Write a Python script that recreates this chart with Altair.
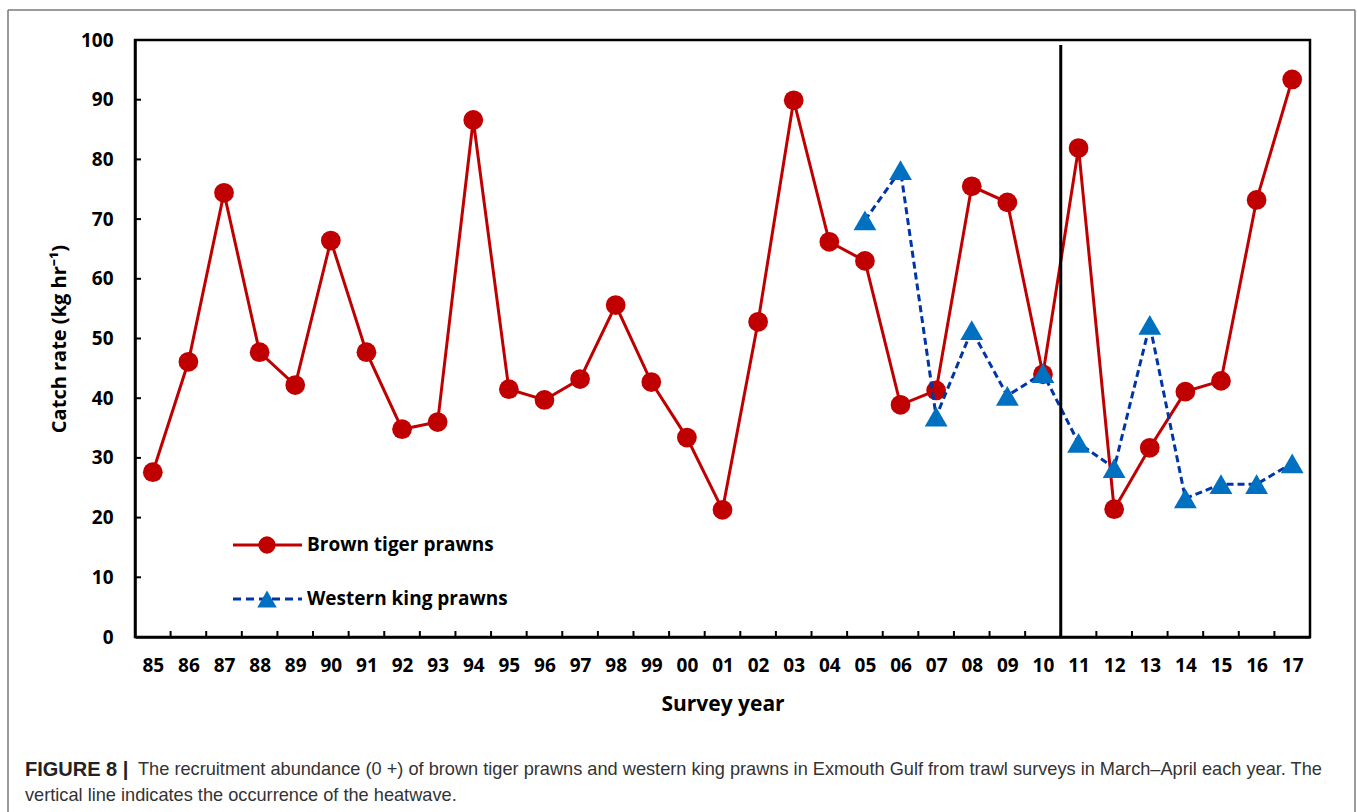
import json
import altair as alt
import pandas as pd

# ---------------- data ----------------
years = ["85", "86", "87", "88", "89", "90", "91", "92", "93", "94", "95", "96",
         "97", "98", "99", "00", "01", "02", "03", "04", "05", "06", "07", "08",
         "09", "10", "11", "12", "13", "14", "15", "16", "17"]
brown_tiger = [27.6, 46.1, 74.4, 47.7, 42.2, 66.4, 47.7, 34.8, 36.0, 86.6, 41.5, 39.7,
               43.2, 55.6, 42.7, 33.4, 21.3, 52.8, 89.9, 66.2, 63.0, 38.9, 41.3, 75.5,
               72.8, 44.0, 81.9, 21.4, 31.7, 41.1, 42.9, 73.2, 93.4]
western_years = ["05", "06", "07", "08", "09", "10", "11", "12", "13", "14", "15", "16", "17"]
western_king = [69.8, 78.2, 36.9, 51.4, 40.4, 44.2, 32.5, 28.3, 52.3, 23.2, 25.6, 25.6, 29.1]
heatwave_first_year = "11"
y_ticks = [0, 10, 20, 30, 40, 50, 60, 70, 80, 90, 100]

series_names = ["Brown tiger prawns", "Western king prawns"]
caption_bold = "FIGURE 8 |"
caption_line1 = ("The recruitment abundance (0 +) of brown tiger prawns and western king prawns "
                 "in Exmouth Gulf from trawl surveys in March\u2013April each year. The")
caption_line2 = "vertical line indicates the occurrence of the heatwave."

# ---------------- tables ----------------
brown_df = pd.DataFrame({"i": list(range(len(years))), "year": years, "rate": brown_tiger})
west_df = pd.DataFrame({"i": [years.index(y) for y in western_years],
                        "year": western_years, "rate": western_king})
bounds_df = pd.DataFrame({"i": [i + 0.5 for i in range(len(years) - 1)]})
yt_df = pd.DataFrame({"rate": y_ticks[1:-1]})
heat_df = pd.DataFrame({"i": [years.index(heatwave_first_year) - 0.5]})
one = pd.DataFrame({"k": [0]})

W, H = 1175, 597
RED = "#C00000"
BLUE_M = "#0070C0"
BLUE_L = "#0035A8"
FONT = "Open Sans"
CAP_FONT = "Liberation Sans"

label_expr = json.dumps(years) + "[round(datum.value)]"

x_scale = alt.Scale(domain=[-0.5, len(years) - 0.5], nice=False, zero=False)
y_scale = alt.Scale(domain=[0, 100], nice=False)

x_axis = alt.Axis(values=list(range(len(years))), labelExpr=label_expr, ticks=False, tickSize=0,
                  grid=False, domainColor="black", domainWidth=2.5,
                  labelFont=FONT, labelFontWeight="bold", labelFontSize=19, labelColor="black",
                  labelPadding=19, labelFlush=False, labelOverlap=False, labelSeparation=0,
                  labelBound=False,
                  title="Survey year", titleFont=FONT, titleFontWeight="bold", titleFontSize=21,
                  titleColor="black", titleY=56, titleBaseline="top")
y_axis = alt.Axis(values=y_ticks, ticks=False, tickSize=0, grid=False,
                  domainColor="black", domainWidth=2.5,
                  labelFont=FONT, labelFontWeight="bold", labelFontSize=19, labelColor="black",
                  labelPadding=22,
                  title="Catch rate (kg hr\u207b\u00b9)", titleFont=FONT, titleFontWeight="bold",
                  titleFontSize=20, titleColor="black", titleX=-76, titleY=H / 2,
                  titleAngle=270, titleBaseline="middle", titleAlign="center")

X = alt.X("i:Q", scale=x_scale, axis=x_axis)
Y = alt.Y("rate:Q", scale=y_scale, axis=y_axis)

brown_line = alt.Chart(brown_df).mark_line(color=RED, strokeWidth=3).encode(x=X, y=Y)

# inward ticks
xticks = alt.Chart(bounds_df).mark_rule(color="black", strokeWidth=2).encode(
    x=X, y=alt.value(H), y2=alt.value(H - 6))
yticks = alt.Chart(yt_df).mark_rule(color="black", strokeWidth=2).encode(
    y=Y, x=alt.value(0), x2=alt.value(6))

brown_pts = alt.Chart(brown_df).mark_point(shape="circle", filled=True, color=RED, size=390,
                                           opacity=1).encode(x=X, y=Y)
west_line = alt.Chart(west_df).mark_line(color=BLUE_L, strokeWidth=3, strokeDash=[7, 4]).encode(x=X, y=Y)
west_pts = alt.Chart(west_df).mark_point(shape="triangle-up", filled=True, color=BLUE_M, size=520,
                                         opacity=1).encode(x=X, y=Y)

heat = alt.Chart(heat_df).mark_rule(color="black", strokeWidth=3).encode(
    x=X, y=alt.value(5), y2=alt.value(H))

# legend (manual, Excel style inside plot)
def legend_row(y, color, dash, shape, mcolor, msize, text):
    line = alt.Chart(one).mark_rule(color=color, strokeWidth=3, strokeDash=dash).encode(
        x=alt.value(98), x2=alt.value(167), y=alt.value(y))
    mk = alt.Chart(one).mark_point(shape=shape, filled=True, color=mcolor, size=msize, opacity=1).encode(
        x=alt.value(132), y=alt.value(y))
    tx = alt.Chart(one).mark_text(align="left", baseline="middle", font=FONT, fontWeight="bold",
                                  fontSize=19, color="black").encode(
        x=alt.value(172), y=alt.value(y), text=alt.value(text))
    return [line, mk, tx]

leg = legend_row(505, RED, [1, 0], "circle", RED, 300, series_names[0]) + \
      legend_row(559, BLUE_L, [8, 5], "triangle-up", BLUE_M, 380, series_names[1])

# figure frame and caption
FR = "#7a7a7a"
frame_top = alt.Chart(one).mark_rule(color=FR, strokeWidth=1.5).encode(
    x=alt.value(-127), x2=alt.value(1220), y=alt.value(-30))
frame_left = alt.Chart(one).mark_rule(color=FR, strokeWidth=1.5).encode(
    x=alt.value(-127), y=alt.value(-30), y2=alt.value(790))
frame_right = alt.Chart(one).mark_rule(color=FR, strokeWidth=1.5).encode(
    x=alt.value(1220), y=alt.value(-30), y2=alt.value(790))

cap_b = alt.Chart(one).mark_text(align="left", baseline="middle", font=CAP_FONT, fontWeight="bold",
                                 fontSize=20, color="#222222").encode(
    x=alt.value(-110), y=alt.value(730), text=alt.value(caption_bold))
cap_1 = alt.Chart(one).mark_text(align="left", baseline="middle", font=CAP_FONT,
                                 fontSize=18.2, color="#333333").encode(
    x=alt.value(3), y=alt.value(730), text=alt.value(caption_line1))
cap_2 = alt.Chart(one).mark_text(align="left", baseline="middle", font=CAP_FONT,
                                 fontSize=18.2, color="#333333").encode(
    x=alt.value(-110), y=alt.value(756), text=alt.value(caption_line2))

chart = alt.layer(
    brown_line, xticks, yticks, brown_pts, west_line, west_pts, heat,
    *leg, frame_top, frame_left, frame_right, cap_b, cap_1, cap_2
).properties(
    width=W, height=H,
    autosize=alt.AutoSizeParams(type="none"),
    padding={"left": 135, "top": 40, "right": 47, "bottom": 175},
    background="white",
).configure_view(stroke="black", strokeWidth=2.5)

chart.save("out.html", embed_options={"renderer": "svg", "actions": False})
